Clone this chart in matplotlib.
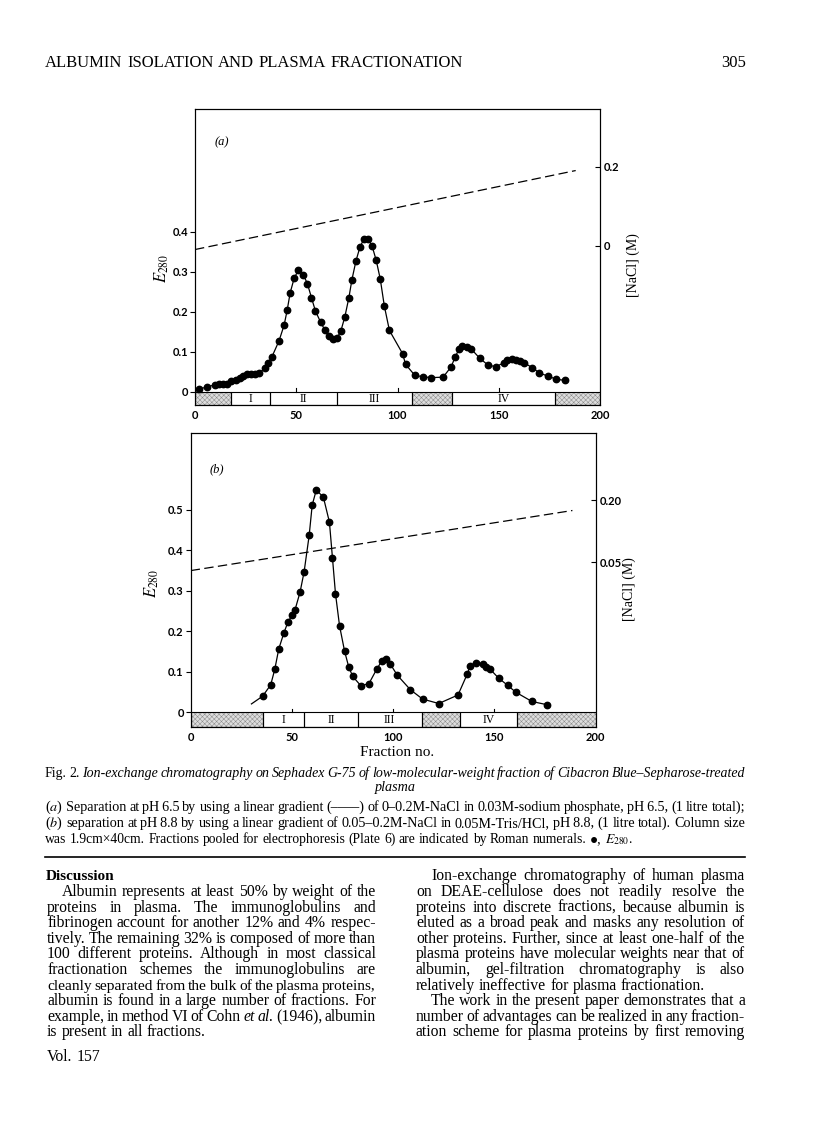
import matplotlib
matplotlib.use("Agg")
import matplotlib.pyplot as plt
from matplotlib.patches import Rectangle

# ---- panel (a): pH 6.5 ----
frac_a = [2, 6, 10, 12, 14, 16, 18, 20, 22, 23.5,
          25.5, 27.5, 29.5, 31.5, 34.5, 36, 38, 41.5, 44, 45.5,
          47, 49, 51, 53.5, 55.5, 57.5, 59.5, 62, 64, 66,
          68, 70, 72, 74, 76, 77.5, 79.5, 81.5, 83.5, 85.5,
          87.5, 89.5, 91.5, 93.5, 96, 102.5, 104, 108.5, 112.5, 116.5,
          122.5, 126.5, 128.5, 130.5, 132, 134.5, 136.5, 140.5, 144.5, 148.5,
          152.5, 154, 156.5, 158.5, 160.5, 162.5, 166.5, 170, 174.5, 178.5,
          182.5]
e280_a = [0.007, 0.013, 0.018, 0.020, 0.021, 0.020, 0.027, 0.031, 0.036, 0.040,
          0.046, 0.045, 0.045, 0.047, 0.059, 0.072, 0.088, 0.128, 0.167, 0.204,
          0.248, 0.285, 0.304, 0.293, 0.271, 0.236, 0.202, 0.175, 0.156, 0.140,
          0.133, 0.134, 0.152, 0.188, 0.236, 0.281, 0.328, 0.363, 0.383, 0.383,
          0.364, 0.329, 0.282, 0.215, 0.154, 0.096, 0.069, 0.042, 0.038, 0.036,
          0.037, 0.063, 0.088, 0.108, 0.116, 0.113, 0.107, 0.085, 0.068, 0.063,
          0.073, 0.079, 0.083, 0.081, 0.078, 0.073, 0.061, 0.048, 0.039, 0.032,
          0.029]
grad_x_a = [0, 188]
grad_nacl_a = [-0.01, 0.19]
pool_edges_a = [0, 18, 37, 70, 107, 127, 178, 200]
pool_names = ["", "I", "II", "III", "", "IV", ""]

# ---- panel (b): pH 8.8 ----
frac_b = [35.5, 39.5, 41.5, 43.5, 46, 48, 50, 51.5, 54, 56,
          58.5, 60, 62, 65.5, 68.5, 70, 71.5, 73.5, 76, 78,
          80, 84, 88, 92, 94.5, 96.5, 98.5, 102, 108.5, 114.5,
          122.5, 132, 136.5, 138, 141, 144.5, 146, 148, 152, 156.5,
          160.5, 168.5, 176]
e280_b = [0.040, 0.068, 0.106, 0.157, 0.196, 0.223, 0.240, 0.253, 0.297, 0.347,
          0.437, 0.512, 0.549, 0.532, 0.470, 0.382, 0.293, 0.214, 0.151, 0.113,
          0.089, 0.066, 0.071, 0.108, 0.128, 0.131, 0.120, 0.092, 0.056, 0.033,
          0.022, 0.043, 0.094, 0.115, 0.123, 0.120, 0.113, 0.106, 0.085, 0.067,
          0.050, 0.027, 0.019]
curve_start_b = (30, 0.021)
grad_x_b = [0, 188.5]
grad_nacl_b = [0.03, 0.175]
pool_edges_b = [0, 35.5, 56, 82.5, 114, 133, 161, 200]

x_ticks = [0, 50, 100, 150, 200]

W, H = 816, 1136
SERIF = ["Liberation Serif", "DejaVu Serif"]
SANS = ["Lato", "DejaVu Sans"]
plt.rcParams["mathtext.fontset"] = "stix"
plt.rcParams["hatch.linewidth"] = 0.35

fig = plt.figure(figsize=(W / 100, H / 100), dpi=100, facecolor="white")


def box(left, top, right, bottom):
    return fig.add_axes([left / W, 1 - bottom / H, (right - left) / W, (bottom - top) / H])


def panel(ax, frac, e280, gx, gm, edges, ylim, yticks, rlim, rticks, rlabels, start=None):
    ax.set_xlim(0, 200)
    ax.set_ylim(*ylim)
    xs, ys = list(frac), list(e280)
    if start:
        xs, ys = [start[0]] + xs, [start[1]] + ys
    ax.plot(xs, ys, color="black", lw=0.9, zorder=3)
    ax.plot(frac, e280, "o", color="black", ms=4.6, zorder=4)
    # pooled fractions strip under the baseline
    for i in range(len(edges) - 1):
        x0, x1 = edges[i], edges[i + 1]
        if pool_names[i] == "":
            ax.add_patch(Rectangle((x0, ylim[0]), x1 - x0, -ylim[0], facecolor="#dddddd",
                                   edgecolor="#8a8a8a", hatch="xxxxxxx", lw=0, zorder=2))
        ax.add_patch(Rectangle((x0, ylim[0]), x1 - x0, -ylim[0], facecolor="none",
                               edgecolor="black", lw=0.8, zorder=2.5))
        if pool_names[i]:
            ax.text((x0 + x1) / 2, ylim[0] / 2, pool_names[i], ha="center", va="center",
                    family=SERIF, fontsize=8.5)
    for t in x_ticks[1:-1]:
        ax.plot([t, t], [0, 0.009], color="black", lw=0.8)
    ax.set_xticks(x_ticks)
    ax.set_xticklabels([str(t) for t in x_ticks], family=SANS, weight="bold", fontsize=8)
    ax.tick_params(axis="x", length=0, pad=3.5)
    ax.set_yticks(yticks)
    ax.set_yticklabels(["0"] + ["%.1f" % v for v in yticks[1:]], family=SANS,
                       weight="bold", fontsize=8)
    ax.tick_params(axis="y", direction="out", length=3.5, width=0.8, pad=1.5)
    ax2 = ax.twinx()
    ax2.set_ylim(*rlim)
    ax2.plot(gx, gm, color="black", lw=0.9, dashes=(7.5, 3.5))
    ax2.set_yticks(rticks)
    ax2.set_yticklabels(rlabels, family=SANS, weight="bold", fontsize=8)
    ax2.tick_params(axis="y", direction="in", length=3.5, width=0.8, pad=3)
    for a in (ax, ax2):
        for s in a.spines.values():
            s.set_linewidth(0.8)


ax_a = box(195, 109, 600, 405)
panel(ax_a, frac_a, e280_a, grad_x_a, grad_nacl_a, pool_edges_a,
      (-0.0325, 0.7075), [0, 0.1, 0.2, 0.3, 0.4], (-0.4036, 0.3458), [0, 0.2], ["0", "0.2"])
ax_b = box(190.7, 433, 595.7, 727)
panel(ax_b, frac_b, e280_b, grad_x_b, grad_nacl_b, pool_edges_b,
      (-0.036, 0.69), [0, 0.1, 0.2, 0.3, 0.4, 0.5], (-0.3474, 0.362), [0.05, 0.20],
      ["0.05", "0.20"], start=curve_start_b)


def ftext(x, y, s, **kw):
    kw.setdefault("family", SERIF)
    return fig.text(x / W, 1 - y / H, s, **kw)


ftext(222, 142, "(a)", style="italic", fontsize=9, ha="center", va="center")
ftext(217, 469, "(b)", style="italic", fontsize=9, ha="center", va="center")
ftext(162, 268, "$E_{280}$", fontsize=12, rotation=90, ha="center", va="center")
ftext(152, 583, "$E_{280}$", fontsize=12, rotation=90, ha="center", va="center")
ftext(633, 265, "[NaCl] (M)", fontsize=10, rotation=90, ha="center", va="center")
ftext(629, 589, "[NaCl] (M)", fontsize=10, rotation=90, ha="center", va="center")
ftext(397, 752, "Fraction no.", fontsize=11, ha="center", va="center")

# ---- page text ----
rend = fig.canvas.get_renderer()


def put_line(line, y, x0, x1, size, justify=True, center=False, weight="normal"):
    toks = line.split(" ")
    while True:
        objs = [ftext(0, round(y), t.lstrip("*"), fontsize=size, weight=weight, va="baseline",
                      style="italic" if t.startswith("*") else "normal") for t in toks]
        widths = [o.get_window_extent(rend).width for o in objs]
        room = x1 - x0 - sum(widths)
        em = size * 100 / 72
        if not justify or len(toks) == 1 or room / (len(toks) - 1) >= 0.14 * em:
            break
        for o in objs:
            o.remove()
        size *= 0.98
    gap = room / (len(toks) - 1) if (justify and len(toks) > 1) else 0.25 * em
    x = x0
    if center:
        x = (x0 + x1 - sum(widths) - gap * (len(toks) - 1)) / 2
    for o, w in zip(objs, widths):
        o.set_x(x / W)
        x += w + gap


def ital(s):
    return " ".join("*" + w for w in s.split(" "))


put_line("ALBUMIN ISOLATION AND PLASMA FRACTIONATION", 67, 45, 463, 12.5)
put_line("305", 67, 721, 760, 12, justify=False)

CAP = 10.2
put_line("Fig. 2. " + ital("Ion-exchange chromatography on Sephadex G-75 of "
                           "low-molecular-weight fraction of Cibacron Blue\u2013Sepharose-treated"),
         777, 45, 745, CAP)
put_line(ital("plasma"), 791, 45, 745, CAP, justify=False, center=True)
put_line("($\\mathit{a}$) Separation at pH\u20096.5 by using a linear gradient (\u2013\u2013\u2013\u2013) of "
         "0\u20130.2M-NaCl in 0.03M-sodium phosphate, pH\u20096.5, (1 litre total);",
         811, 45, 745, CAP)
put_line("($\\mathit{b}$) separation at pH\u20098.8 by using a linear gradient of 0.05\u20130.2M-NaCl "
         "in 0.05M-Tris/HCl, pH\u20098.8, (1 litre total). Column size", 827, 45, 745, CAP)
put_line("was 1.9cm\u00d740cm. Fractions pooled for electrophoresis (Plate 6) are indicated "
         "by Roman numerals. \u25cf, $E_{280}$.", 843, 45, 745, CAP * 0.96, justify=False)
fig.add_artist(plt.Line2D([45 / W, 745 / W], [1 - 857 / H] * 2, color="black", lw=1.2))
put_line("Discussion", 880, 46, 200, 11, justify=False, weight="bold")

left_col = [
    "Albumin represents at least 50% by weight of the",
    "proteins in plasma. The immunoglobulins and",
    "fibrinogen account for another 12% and 4% respec-",
    "tively. The remaining 32% is composed of more than",
    "100 different proteins. Although in most classical",
    "fractionation schemes the immunoglobulins are",
    "cleanly separated from the bulk of the plasma proteins,",
    "albumin is found in a large number of fractions. For",
    "example, in method VI of Cohn *et *al. (1946), albumin",
    "is present in all fractions.",
]
right_col = [
    "on DEAE-cellulose does not readily resolve the",
    "proteins into discrete fractions, because albumin is",
    "eluted as a broad peak and masks any resolution of",
    "other proteins. Further, since at least one-half of the",
    "plasma proteins have molecular weights near that of",
    "albumin, gel-filtration chromatography is also",
    "relatively ineffective for plasma fractionation.",
    "The work in the present paper demonstrates that a",
    "number of advantages can be realized in any fraction-",
    "ation scheme for plasma proteins by first removing",
]
BODY = 11.3
put_line("Ion-exchange chromatography of human plasma", 880, 431, 745, BODY)
for i, line in enumerate(left_col):
    x0 = 62 if i == 0 else 47
    put_line(line, 896 + 15.6 * i, x0, 376, BODY, justify=i < len(left_col) - 1)
for i, line in enumerate(right_col):
    x0 = 431 if i == 7 else 416
    put_line(line, 896 + 15.6 * i, x0, 745, BODY, justify=i != 6)
put_line("Vol. 157", 1061, 47, 200, BODY, justify=False)

fig.savefig("out.png", dpi=100, facecolor="white")
